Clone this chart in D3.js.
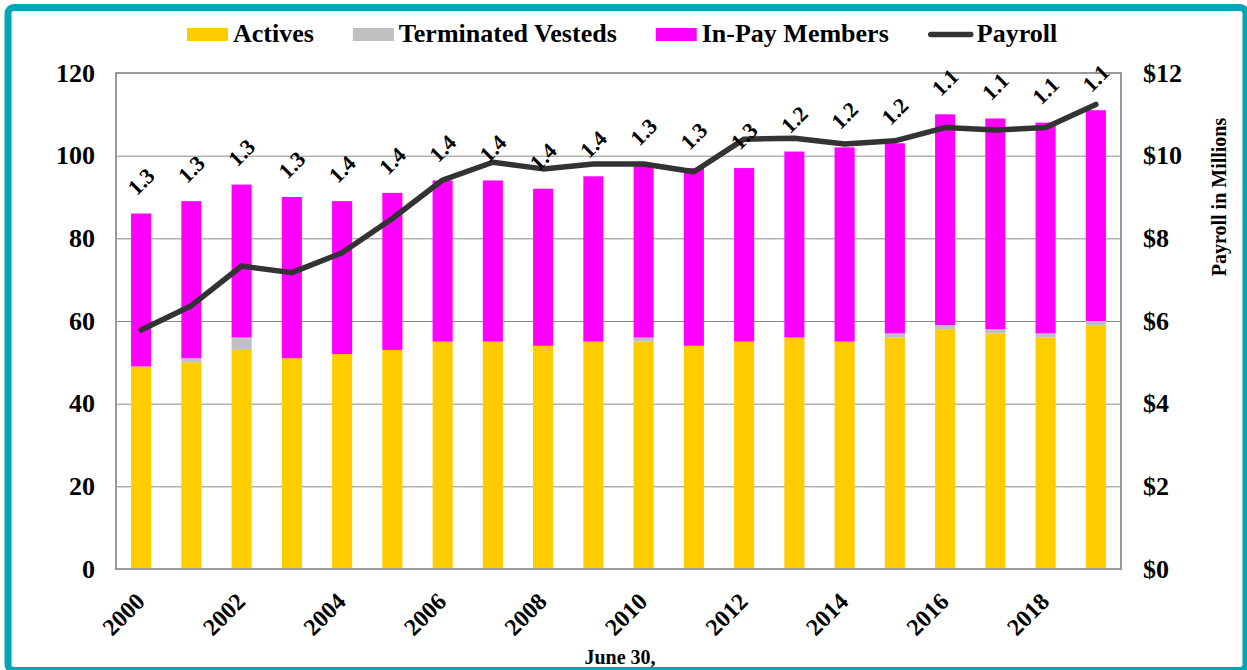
<!DOCTYPE html>
<html>
<head>
<meta charset="utf-8">
<script src="https://cdn.jsdelivr.net/npm/d3@7.9.0/dist/d3.min.js"></script>
<style>
  body { margin: 0; background: #fff; }
  svg { display: block; }
  svg text { font-family: "Liberation Serif", "Times New Roman", serif; font-weight: bold; fill: #000; }
</style>
</head>
<body>
<svg id="chart" width="1247" height="670"></svg>
<script>
const years = d3.range(2000, 2020);
const actives = [49, 50, 53, 51, 52, 53, 55, 55, 54, 55, 55, 54, 55, 56, 55, 56, 58, 57, 56, 59];
const termVesteds = [0, 1, 3, 0, 0, 0, 0, 0, 0, 0, 1, 0, 0, 0, 0, 1, 1, 1, 1, 1];
const inPay = [37, 38, 37, 39, 37, 38, 39, 39, 38, 40, 42, 43, 42, 45, 47, 46, 51, 51, 51, 51];
const payroll = [5.78, 6.37, 7.33, 7.17, 7.65, 8.48, 9.41, 9.84, 9.68, 9.80, 9.80, 9.61, 10.40, 10.42, 10.28, 10.36, 10.68, 10.62, 10.68, 11.24];
const ratios = [1.3, 1.3, 1.3, 1.3, 1.4, 1.4, 1.4, 1.4, 1.4, 1.4, 1.3, 1.3, 1.3, 1.2, 1.2, 1.2, 1.1, 1.1, 1.1, 1.1];
const leftTicks = [0, 20, 40, 60, 80, 100, 120];
const rightTicks = [0, 2, 4, 6, 8, 10, 12];
const xTickYears = years.filter((y) => y % 2 === 0);

const seriesNames = ['Actives', 'Terminated Vesteds', 'In-Pay Members'];
const seriesColors = ['#FFCC00', '#C0C0C0', '#FF00FF'];

const svg = d3.select('#chart');
const plot = { left: 116, right: 1121, top: 73, bottom: 569 };

// outer teal frame
svg.append('rect')
  .attr('x', 8).attr('y', 7.5)
  .attr('width', 1238).attr('height', 663)
  .attr('rx', 6)
  .attr('fill', 'none')
  .attr('stroke', '#00A6B6')
  .attr('stroke-width', 7);

const x = d3.scaleBand()
  .domain(years)
  .range([plot.left, plot.right])
  .paddingInner(0.6)
  .paddingOuter(0.3);
const yLeft = d3.scaleLinear().domain([0, 120]).range([plot.bottom, plot.top]);
const yRight = d3.scaleLinear().domain([0, 12]).range([plot.bottom, plot.top]);

// strips d3's default axis font so the serif style applies
function cleanAxis(g, size) {
  g.attr('font-family', null).attr('font-size', null);
  g.select('.domain').remove();
  g.selectAll('text').attr('font-size', size).attr('fill', null);
}

// gridlines
svg.append('g')
  .attr('transform', `translate(${plot.left},0)`)
  .call(d3.axisLeft(yLeft).tickValues(leftTicks).tickSize(-(plot.right - plot.left)).tickFormat(''))
  .call((g) => g.select('.domain').remove())
  .call((g) => g.selectAll('line').attr('stroke', '#8a8a8a').attr('stroke-width', 1));

// stacked bars
const rows = years.map((yr, i) => ({
  year: yr,
  'Actives': actives[i],
  'Terminated Vesteds': termVesteds[i],
  'In-Pay Members': inPay[i],
}));
const stacked = d3.stack().keys(seriesNames)(rows);

svg.append('g')
  .selectAll('g')
  .data(stacked)
  .join('g')
  .attr('fill', (d, i) => seriesColors[i])
  .selectAll('rect')
  .data((d) => d)
  .join('rect')
  .attr('x', (d) => x(d.data.year))
  .attr('width', x.bandwidth())
  .attr('y', (d) => yLeft(d[1]))
  .attr('height', (d) => yLeft(d[0]) - yLeft(d[1]));

// plot border
svg.append('rect')
  .attr('x', plot.left).attr('y', plot.top)
  .attr('width', plot.right - plot.left).attr('height', plot.bottom - plot.top)
  .attr('fill', 'none')
  .attr('stroke', '#999')
  .attr('stroke-width', 2);

// payroll line
const line = d3.line()
  .x((d, i) => x(years[i]) + x.bandwidth() / 2)
  .y((d) => yRight(d));

svg.append('path')
  .datum(payroll)
  .attr('d', line)
  .attr('fill', 'none')
  .attr('stroke', '#333333')
  .attr('stroke-width', 5.5)
  .attr('stroke-linejoin', 'round')
  .attr('stroke-linecap', 'round');

// ratio labels over bars
const totals = years.map((yr, i) => actives[i] + termVesteds[i] + inPay[i]);
svg.append('g')
  .selectAll('text')
  .data(ratios)
  .join('text')
  .attr('transform', (d, i) => `translate(${x(years[i]) + x.bandwidth() / 2},${yLeft(totals[i]) - 32}) rotate(-45)`)
  .attr('text-anchor', 'middle')
  .attr('dominant-baseline', 'central')
  .attr('font-size', 22)
  .text((d) => d3.format('.1f')(d));

// left axis
svg.append('g')
  .attr('transform', `translate(${plot.left},0)`)
  .call(d3.axisLeft(yLeft).tickValues(leftTicks).tickSize(0).tickPadding(21))
  .call((g) => cleanAxis(g, 26));

// right axis
svg.append('g')
  .attr('transform', `translate(${plot.right},0)`)
  .call(d3.axisRight(yRight).tickValues(rightTicks).tickSize(0).tickPadding(22).tickFormat((d) => `$${d}`))
  .call((g) => cleanAxis(g, 26));

svg.append('text')
  .attr('transform', `translate(1226,197) rotate(-90)`)
  .attr('text-anchor', 'middle')
  .attr('font-size', 20)
  .text('Payroll in Millions');

// x axis labels
svg.append('g')
  .attr('transform', `translate(0,${plot.bottom})`)
  .call(d3.axisBottom(x).tickValues(xTickYears).tickSize(0).tickFormat(d3.format('d')))
  .call((g) => cleanAxis(g, 24))
  .call((g) => g.selectAll('text')
    .attr('text-anchor', 'end')
    .attr('dy', null)
    .attr('y', 0)
    .attr('transform', 'translate(5,34) rotate(-45)'));

svg.append('text')
  .attr('x', 620).attr('y', 664)
  .attr('text-anchor', 'middle')
  .attr('font-size', 20)
  .text('June 30,');

// legend
const legend = svg.append('g').attr('transform', 'translate(187,0)');
let lx = 0;
seriesNames.concat(['Payroll']).forEach((name, i) => {
  const item = legend.append('g').attr('transform', `translate(${lx},0)`);
  if (i < 3) {
    item.append('rect')
      .attr('x', 0).attr('y', 28)
      .attr('width', 41).attr('height', 13)
      .attr('fill', seriesColors[i]);
  } else {
    item.append('line')
      .attr('x1', 3).attr('x2', 43)
      .attr('y1', 34.5).attr('y2', 34.5)
      .attr('stroke', '#333333')
      .attr('stroke-width', 5.5)
      .attr('stroke-linecap', 'round');
  }
  const t = item.append('text')
    .attr('x', i < 3 ? 46 : 49)
    .attr('y', 42)
    .attr('font-size', 26)
    .text(name);
  lx += (i < 3 ? 46 : 49) + t.node().getComputedTextLength() + 39;
});
</script>
</body>
</html>
